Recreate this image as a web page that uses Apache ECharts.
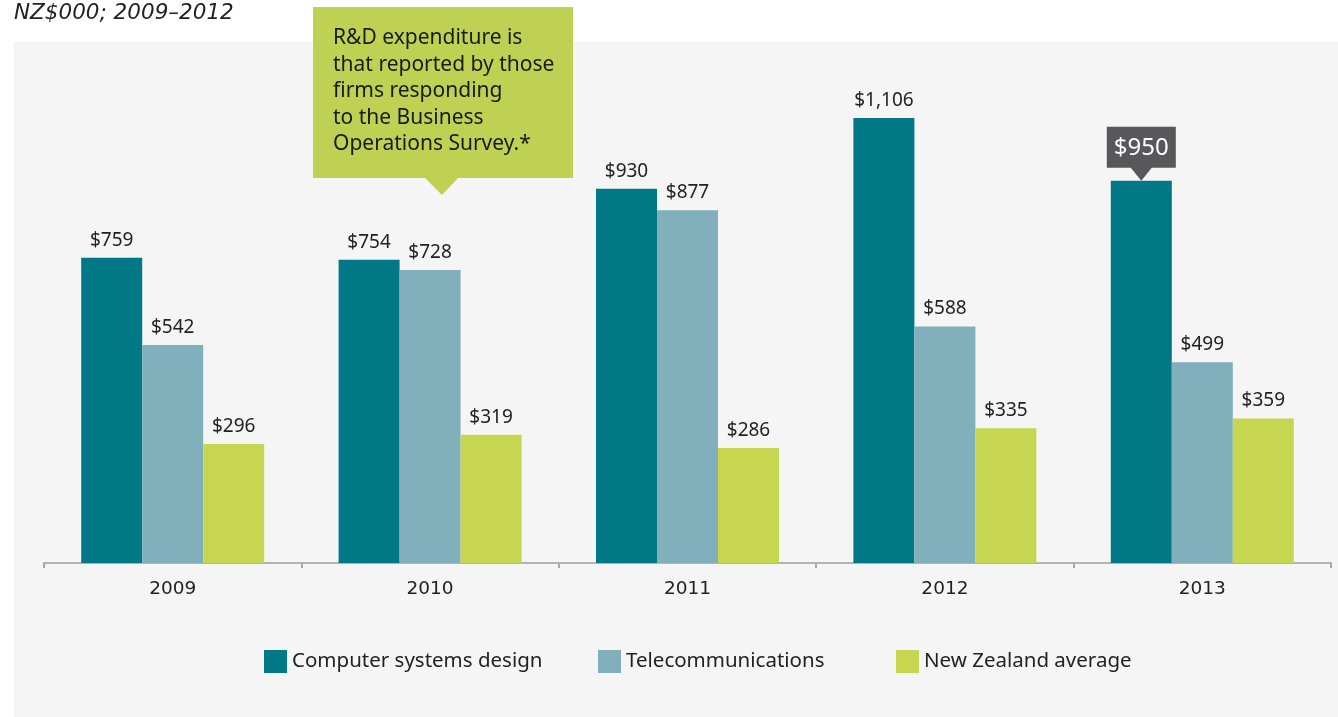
<!DOCTYPE html>
<html>
<head>
<meta charset="utf-8">
<script src="https://cdn.jsdelivr.net/npm/echarts@6/dist/echarts.min.js"></script>
<style>
  html, body { margin: 0; padding: 0; background: #ffffff; }
  #chart { width: 1338px; height: 717px; }
</style>
</head>
<body>
<div id="chart"></div>
<script>
// R&D expenditure per firm, NZ$000
const years = ['2009', '2010', '2011', '2012', '2013'];
const computerSystems = [759, 754, 930, 1106, 950];
const telecommunications = [542, 728, 877, 588, 499];
const nzAverage = [296, 319, 286, 335, 359];
const seriesNames = ['Computer systems design', 'Telecommunications', 'New Zealand average'];
const highlightIndex = 4; // year shown with the callout tag

const FONT = '"Noto Sans", "DejaVu Sans", sans-serif';
const WIDE_FONT = '"DejaVu Sans", "Noto Sans", sans-serif';
const TEXT = '#222222';
const COLORS = ['#007886', '#82afbc', '#c6d651'];

const money = v => '$' + v.toLocaleString('en-US');

const valueLabel = {
  show: true,
  position: 'top',
  distance: 8,
  color: TEXT,
  fontFamily: FONT,
  fontSize: 19,
  formatter: p => money(p.value)
};

function barSeries(name, values, color, extra) {
  return Object.assign({
    name: name,
    type: 'bar',
    data: values,
    barWidth: 61,
    barGap: '0%',
    itemStyle: { color: color },
    label: valueLabel,
    emphasis: { disabled: true }
  }, extra || {});
}

const computerData = computerSystems.map((v, i) =>
  i === highlightIndex ? { value: v, label: { show: false } } : v);

const chart = echarts.init(document.getElementById('chart'), null, { renderer: 'canvas' });

chart.setOption({
  animation: false,
  backgroundColor: '#ffffff',
  title: {
    text: 'NZ$000; 2009–2012',
    left: 14,
    top: 2,
    padding: 0,
    textStyle: {
      fontFamily: WIDE_FONT,
      fontStyle: 'italic',
      fontWeight: 'normal',
      fontSize: 21.5,
      color: TEXT
    }
  },
  legend: seriesNames.map((n, i) => ({
    data: [n],
    left: [264, 598, 896][i],
    top: 650,
    padding: 0,
    icon: 'rect',
    itemWidth: 23,
    itemHeight: 23,
    selectedMode: false,
    textStyle: { fontFamily: FONT, fontSize: 20.5, color: TEXT }
  })),
  grid: { left: 44, right: 7, top: 40, bottom: 154, containLabel: false },
  xAxis: {
    type: 'category',
    data: years,
    axisLine: { show: true, lineStyle: { color: '#b3b3b3', width: 2 } },
    axisTick: { show: true, length: 5, lineStyle: { color: '#a8a8a8', width: 2 } },
    axisLabel: { color: TEXT, fontFamily: WIDE_FONT, fontSize: 18.5, margin: 17 }
  },
  yAxis: {
    type: 'value',
    min: 0,
    max: 1300,
    show: false,
    splitLine: { show: false }
  },
  series: [
    barSeries(seriesNames[0], computerData, COLORS[0], {
      markPoint: {
        symbol: 'path://M0,0 H69 V41 H45 L34.5,54 L24,41 H0 Z',
        symbolSize: [69, 54],
        symbolOffset: [0, -27],
        itemStyle: { color: '#58585a' },
        label: {
          show: true,
          position: 'inside',
          offset: [0, -6],
          color: '#ffffff',
          fontFamily: FONT,
          fontSize: 24,
          formatter: p => money(p.value)
        },
        data: [{ coord: [years[highlightIndex], computerSystems[highlightIndex]], value: computerSystems[highlightIndex] }]
      }
    }),
    barSeries(seriesNames[1], telecommunications, COLORS[1]),
    barSeries(seriesNames[2], nzAverage, COLORS[2])
  ],
  graphic: [
    {
      type: 'rect',
      z: -10,
      silent: true,
      shape: { x: 14, y: 42, width: 1324, height: 675 },
      style: { fill: '#f5f5f5' }
    },
    {
      type: 'group',
      z: 100,
      silent: true,
      children: [
        {
          type: 'rect',
          shape: { x: 313, y: 7, width: 260, height: 171 },
          style: { fill: '#bfd152' }
        },
        {
          type: 'polygon',
          shape: { points: [[424, 177], [459, 177], [442, 195]] },
          style: { fill: '#bfd152' }
        },
        {
          type: 'text',
          x: 333,
          y: 25,
          style: {
            text: 'R&D expenditure is\nthat reported by those\nfirms responding\nto the Business\nOperations Survey.*',
            fill: '#1a1a1a',
            fontFamily: FONT,
            fontSize: 21,
            lineHeight: 26.5,
            verticalAlign: 'top'
          }
        }
      ]
    }
  ]
});
</script>
</body>
</html>
